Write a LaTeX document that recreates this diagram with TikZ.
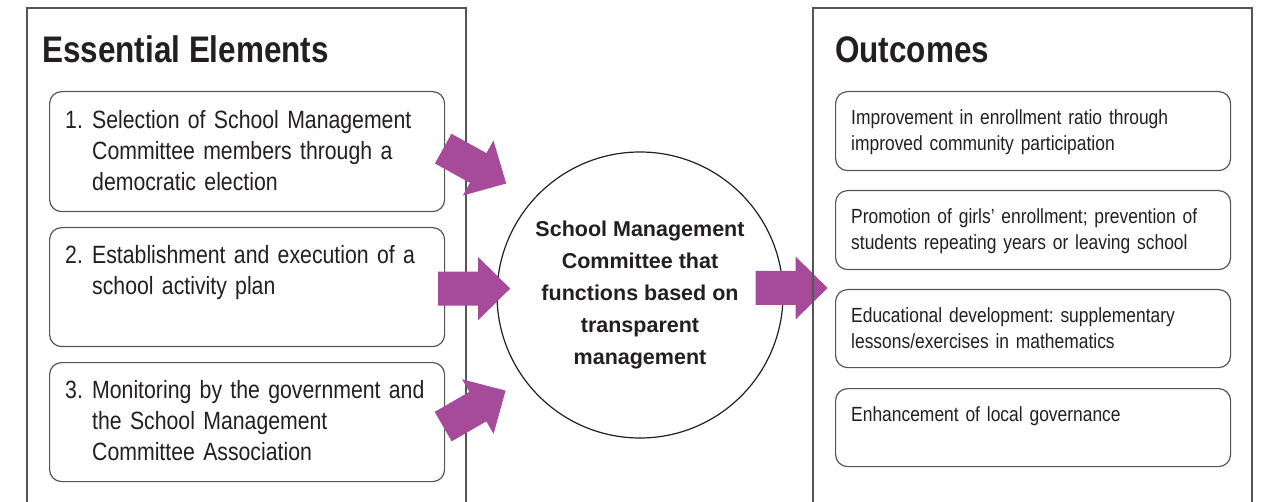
\documentclass[tikz,border=0pt]{standalone}
\usepackage{fontspec}
\setmainfont[FakeStretch=0.85]{Liberation Sans}
\newfontfamily\circlefont{Liberation Sans}
\usetikzlibrary{positioning, calc}

\definecolor{inkdark}{RGB}{35,31,32}
\definecolor{framegray}{RGB}{85,85,85}
\definecolor{arrowpurple}{RGB}{166,74,154}

\newcommand{\numitem}[2]{\makebox[27pt][l]{#1}\parbox[t]{345pt}{#2}}

\tikzset{
    panel/.style={draw=framegray, line width=1.3pt},
    title/.style={anchor=base west, inner sep=0pt, text=inkdark,
        font=\fontsize{37}{40}\selectfont\bfseries},
    elembox/.style={draw=framegray, line width=1.2pt, rounded corners=12pt,
        minimum width=395pt, inner sep=0pt, anchor=north west},
    elemtext/.style={anchor=north west, inner sep=0pt, text width=375pt,
        align=left, text=inkdark, font=\fontsize{25}{31}\selectfont\frenchspacing},
    outtext/.style={anchor=north west, inner sep=0pt, text width=375pt,
        align=left, text=inkdark, font=\fontsize{20.5}{26}\selectfont\frenchspacing},
    pics/fatarrow/.style={code={
        \fill[arrowpurple] (0,-17) -- (40,-17) -- (40,-31.5) -- (72,0)
            -- (40,31.5) -- (40,17) -- (0,17) -- cycle;
    }}
}

\begin{document}
\begin{tikzpicture}[x=1pt, y=-1pt]
    \useasboundingbox (0,0) rectangle (1271,502);

    % Left panel: essential elements
    \draw[panel] (27,502) -- (27,8) -- (466,8) -- (466,502);
    \node[title] (elemtitle) at (42,63) {Essential Elements};

    \node[elembox, minimum height=120pt] (elem1) at (49,91) {};
    \node[elembox, minimum height=119pt] (elem2) at (49,227) {};
    \node[elembox, minimum height=119pt] (elem3) at (49,362) {};

    \node[elemtext] (elem1text) at ($(elem1.north west)+(16,19)$)
        {\numitem{1.}{Selection of School Management\\
         Committee members through a\\ democratic election}};
    \node[elemtext] (elem2text) at ($(elem2.north west)+(16,18)$)
        {\numitem{2.}{Establishment and execution of a\\
         school activity plan}};
    \node[elemtext] (elem3text) at ($(elem3.north west)+(16,18)$)
        {\numitem{3.}{Monitoring by the government and\\
         the School Management\\ Committee Association}};

    % Centre: the committee
    \node[circle, draw=inkdark, line width=1.2pt, minimum size=286pt,
        inner sep=0pt, align=center, text=inkdark,
        font=\circlefont\fontsize{21.5}{32}\selectfont\bfseries] (smc) at (640,295)
        {School Management\\ Committee that\\ functions based on\\
         transparent\\ management};

    % Block arrows
    \pic[rotate=-29] at ($(elem1.east)+(-2,-3)$) {fatarrow};
    \pic at ($(elem2.east)+(-7,1.5)$) {fatarrow};
    \pic[rotate=30] at ($(elem3.east)+(-2,4.5)$) {fatarrow};
    \pic at ($(smc.east)+(-28,-7)$) {fatarrow};

    % Right panel: outcomes
    \draw[panel] (813,502) -- (813,8) -- (1252,8) -- (1252,502);
    \node[title] (outtitle) at (835,63) {Outcomes};

    \node[elembox, minimum height=79pt] (out1) at (835,91) {};
    \node[elembox, minimum height=79pt] (out2) at (835,190) {};
    \node[elembox, minimum height=78pt] (out3) at (835,289) {};
    \node[elembox, minimum height=78pt] (out4) at (835,388) {};

    \node[outtext] (out1text) at ($(out1.north west)+(16,18.5)$)
        {Improvement in enrollment ratio through\\
         improved community participation};
    \node[outtext] (out2text) at ($(out2.north west)+(16,18.5)$)
        {Promotion of girls’ enrollment; prevention of\\
         students repeating years or leaving school};
    \node[outtext] (out3text) at ($(out3.north west)+(16,18.5)$)
        {Educational development: supplementary\\
         lessons/exercises in mathematics};
    \node[outtext] (out4text) at ($(out4.north west)+(16,18.5)$)
        {Enhancement of local governance};
\end{tikzpicture}
\end{document}
